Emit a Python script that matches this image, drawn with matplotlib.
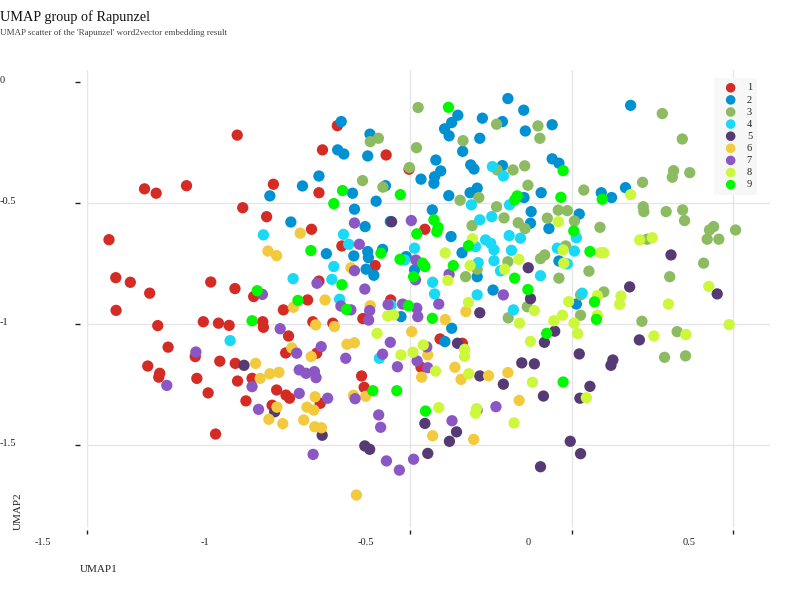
import matplotlib
matplotlib.use("Agg")
import matplotlib.pyplot as plt
from matplotlib.transforms import ScaledTranslation
import numpy as np

plt.rcParams['font.family'] = ['Liberation Serif', 'DejaVu Serif']

# ---------------- data (UMAP1, UMAP2) per group ----------------
group_labels = ['1', '2', '3', '4', '5', '6', '7', '8', '9']
group_colors = ['#d52b25', '#0091d2', '#8cbb62', '#19d9f7', '#553a73',
                '#f3c93e', '#8a57c4', '#cdf73a', '#00f800']

g1 = [(-1.036, -0.221), (-1.323, -0.443), (-1.287, -0.461), (-1.193, -0.430), (-0.924, -0.424),
      (-0.783, -0.459), (-0.772, -0.282), (-0.726, -0.182), (-0.575, -0.303), (-0.504, -0.362),
      (-1.019, -0.521), (-0.945, -0.558), (-0.806, -0.610), (-0.455, -0.610), (-1.433, -0.653),
      (-0.712, -0.679), (-0.609, -0.760), (-1.412, -0.810), (-1.367, -0.829), (-1.307, -0.874),
      (-1.118, -0.828), (-1.043, -0.855), (-0.783, -0.824), (-0.985, -0.888), (-0.818, -0.902),
      (-0.561, -0.902), (-1.411, -0.945), (-0.893, -0.943), (-1.282, -1.008), (-1.141, -0.992),
      (-1.094, -0.998), (-1.061, -1.007), (-0.957, -0.992), (-0.955, -1.015), (-0.802, -0.992),
      (-0.740, -0.998), (-0.647, -0.979), (-0.877, -1.051), (-1.250, -1.097), (-1.166, -1.136),
      (-1.090, -1.155), (-1.042, -1.164), (-0.886, -1.121), (-0.790, -1.122), (-1.313, -1.175),
      (-1.276, -1.205), (-1.279, -1.221), (-1.161, -1.226), (-1.035, -1.237), (-0.990, -1.226),
      (-0.651, -1.216), (-0.643, -1.263), (-0.914, -1.274), (-0.885, -1.295), (-0.874, -1.308),
      (-1.126, -1.286), (-1.009, -1.319), (-0.928, -1.337), (-0.779, -1.329), (-1.103, -1.456),
      (-0.467, -1.180), (-0.408, -1.063), (-0.339, -1.081)]

g2 = [(-0.714, -0.165), (-0.625, -0.217), (-0.725, -0.282), (-0.706, -0.299), (-0.632, -0.307),
      (-0.783, -0.390), (-0.834, -0.431), (-0.935, -0.472), (-0.679, -0.461), (-0.577, -0.430),
      (-0.467, -0.403), (-0.606, -0.494), (-0.673, -0.527), (-0.870, -0.580), (-0.640, -0.599),
      (-0.562, -0.578), (-0.760, -0.711), (-0.675, -0.720), (-0.632, -0.702), (-0.630, -0.727),
      (-0.586, -0.693), (-0.513, -0.723), (-0.637, -0.775), (-0.613, -0.800), (-0.487, -0.778),
      (-0.198, -0.070), (-0.149, -0.118), (-0.277, -0.151), (-0.353, -0.139), (-0.372, -0.169),
      (-0.394, -0.195), (-0.380, -0.224), (-0.215, -0.165), (-0.061, -0.178), (-0.144, -0.204),
      (-0.285, -0.234), (-0.338, -0.288), (-0.421, -0.324), (-0.406, -0.369), (-0.425, -0.393),
      (-0.427, -0.420), (-0.313, -0.344), (-0.303, -0.361), (-0.215, -0.347), (-0.061, -0.319),
      (-0.040, -0.337), (-0.293, -0.440), (-0.315, -0.459), (-0.381, -0.471), (-0.148, -0.479),
      (-0.095, -0.459), (0.182, -0.098), (0.091, -0.459), (0.123, -0.479), (0.166, -0.438),
      (-0.432, -0.530), (-0.126, -0.537), (-0.128, -0.585), (0.023, -0.547), (-0.071, -0.607),
      (-0.374, -0.640), (-0.340, -0.707), (-0.293, -0.806), (-0.040, -0.741), (-0.244, -0.861),
      (0.014, -0.919), (-0.372, -1.019), (-0.393, -1.074), (-0.529, -0.971)]

g3 = [(-0.476, -0.107), (-0.624, -0.248), (-0.599, -0.234), (-0.481, -0.273), (-0.503, -0.355),
      (-0.648, -0.409), (-0.585, -0.436), (-0.233, -0.176), (-0.105, -0.183), (-0.099, -0.234),
      (-0.337, -0.244), (0.280, -0.132), (0.342, -0.237), (0.315, -0.368), (0.311, -0.395),
      (0.365, -0.376), (0.219, -0.416), (0.037, -0.448), (-0.231, -0.365), (-0.182, -0.365),
      (-0.146, -0.348), (-0.136, -0.428), (-0.346, -0.490), (-0.288, -0.479), (-0.233, -0.517),
      (-0.210, -0.563), (-0.042, -0.531), (-0.014, -0.533), (-0.076, -0.564), (0.008, -0.576),
      (-0.166, -0.583), (-0.145, -0.607), (-0.309, -0.595), (0.087, -0.602), (0.221, -0.517),
      (0.223, -0.537), (0.292, -0.537), (0.343, -0.530), (0.349, -0.574), (0.233, -0.651),
      (0.426, -0.613), (0.439, -0.599), (0.419, -0.651), (0.455, -0.651), (0.507, -0.613),
      (-0.019, -0.679), (-0.084, -0.716), (-0.097, -0.731), (-0.198, -0.744), (-0.293, -0.775),
      (-0.329, -0.806), (-0.040, -0.812), (0.053, -0.783), (0.408, -0.750), (0.303, -0.806),
      (0.099, -0.869), (0.027, -0.881), (-0.138, -0.930), (-0.197, -0.976), (0.027, -0.965),
      (0.217, -0.990), (0.326, -1.033), (0.287, -1.139), (0.352, -1.133)]

g4 = [(-0.955, -0.633), (-0.707, -0.631), (-0.691, -0.672), (-0.487, -0.688), (-0.518, -0.737),
      (-0.737, -0.764), (-0.863, -0.814), (-0.743, -0.817), (-0.719, -0.899), (-0.431, -0.829),
      (-1.058, -1.070), (-0.596, -1.143), (-0.560, -0.923), (-0.246, -0.351), (-0.212, -0.390),
      (-0.311, -0.509), (-0.193, -0.509), (-0.248, -0.558), (-0.285, -0.571), (-0.194, -0.636),
      (-0.159, -0.647), (-0.267, -0.654), (-0.251, -0.668), (-0.241, -0.695), (-0.298, -0.682),
      (-0.187, -0.697), (-0.241, -0.740), (-0.290, -0.748), (-0.221, -0.782), (-0.097, -0.802),
      (-0.045, -0.688), (0.008, -0.700), (0.014, -0.645), (-0.014, -0.753), (-0.425, -0.877),
      (-0.293, -0.881), (0.032, -0.874), (-0.181, -0.943)]

g5 = [(-0.558, -0.579), (-1.015, -1.172), (-0.920, -1.364), (-0.773, -1.461), (-0.641, -1.505),
      (-0.626, -1.519), (-0.455, -1.412), (-0.446, -1.536), (0.307, -0.716), (0.179, -0.848),
      (0.450, -0.877), (-0.135, -0.769), (-0.128, -0.897), (-0.285, -0.955), (-0.354, -1.081),
      (-0.053, -1.031), (-0.085, -1.077), (0.023, -1.125), (0.209, -1.067), (0.127, -1.150),
      (0.121, -1.172), (-0.155, -1.162), (-0.116, -1.166), (-0.285, -1.216), (-0.212, -1.250),
      (-0.088, -1.299), (0.025, -1.308), (0.056, -1.259), (-0.357, -1.447), (-0.379, -1.486),
      (-0.005, -1.486), (0.027, -1.537), (-0.097, -1.591)]

g6 = [(-0.841, -0.626), (-0.941, -0.700), (-0.914, -0.719), (-0.684, -0.769), (-0.764, -0.902),
      (-0.862, -0.932), (-0.624, -0.926), (-0.793, -1.005), (-0.735, -1.012), (-0.496, -1.033),
      (-0.867, -1.100), (-0.807, -1.136), (-0.696, -1.085), (-0.673, -1.079), (-0.979, -1.164),
      (-0.965, -1.226), (-0.935, -1.207), (-0.907, -1.201), (-0.465, -1.221), (-0.446, -1.129),
      (-0.795, -1.302), (-0.676, -1.296), (-0.638, -1.300), (-0.820, -1.345), (-0.799, -1.357),
      (-0.913, -1.345), (-0.938, -1.395), (-0.895, -1.413), (-0.830, -1.398), (-0.796, -1.426),
      (-0.775, -1.430), (-0.667, -1.708), (-0.431, -1.463), (-0.328, -0.950), (-0.392, -0.983),
      (-0.362, -1.180), (-0.343, -1.230), (-0.258, -1.215), (-0.198, -1.202), (-0.163, -1.317),
      (-0.304, -1.478)]

g7 = [(-0.673, -0.584), (-0.497, -0.574), (-0.658, -0.672), (-0.483, -0.737), (-0.673, -0.781),
      (-0.789, -0.833), (-0.641, -0.857), (-0.484, -0.819), (-0.958, -0.879), (-0.715, -0.927),
      (-0.684, -0.943), (-0.626, -0.946), (-0.629, -0.985), (-0.569, -0.921), (-0.524, -0.919),
      (-0.480, -0.936), (-0.477, -0.971), (-0.903, -1.021), (-0.776, -1.095), (-0.852, -1.122),
      (-0.562, -1.077), (-0.586, -1.126), (-0.700, -1.143), (-0.479, -1.154), (-0.540, -1.178),
      (-1.164, -1.117), (-1.254, -1.255), (-0.990, -1.260), (-0.844, -1.191), (-0.823, -1.205),
      (-0.797, -1.198), (-0.792, -1.223), (-0.844, -1.288), (-0.756, -1.308), (-0.671, -1.310),
      (-0.970, -1.354), (-0.598, -1.377), (-0.592, -1.428), (-0.801, -1.540), (-0.574, -1.567),
      (-0.534, -1.605), (-0.490, -1.560), (-0.446, -1.182), (-0.212, -0.881), (-0.412, -0.919),
      (-0.235, -1.343), (-0.371, -1.401), (-0.293, -1.357), (-0.380, -0.796), (-0.449, -1.096)]

g8 = [(0.182, -0.467), (-0.042, -0.579), (-0.308, -0.649), (0.210, -0.654), (0.249, -0.645),
      (-0.392, -0.708), (-0.027, -0.695), (0.089, -0.707), (0.099, -0.707), (-0.315, -0.760),
      (-0.164, -0.734), (-0.025, -0.750), (-0.384, -0.821), (-0.208, -0.775), (0.424, -0.846),
      (-0.320, -0.912), (-0.116, -0.946), (-0.162, -0.998), (-0.010, -0.909), (0.079, -0.884),
      (0.152, -0.886), (0.148, -0.920), (-0.056, -0.988), (-0.029, -0.965), (0.007, -0.998),
      (0.018, -1.041), (0.079, -0.965), (0.299, -0.919), (0.487, -1.004), (0.254, -1.051),
      (0.353, -1.045), (-0.128, -1.073), (-0.332, -1.106), (-0.332, -1.135), (-0.422, -1.196),
      (-0.319, -1.207), (-0.122, -1.242), (0.045, -1.306), (-0.412, -1.347), (-0.295, -1.351),
      (-0.298, -1.370), (-0.179, -1.410), (-0.603, -1.040), (-0.570, -0.968), (-0.552, -0.964),
      (-0.529, -1.129), (-0.492, -1.118), (-0.460, -1.088)]

g9 = [(-0.710, -0.450), (-0.737, -0.504), (-0.531, -0.467), (-0.480, -0.629), (-0.808, -0.698),
      (-0.591, -0.709), (-0.532, -0.734), (-0.462, -0.750), (-0.455, -0.764), (-0.490, -0.806),
      (-0.712, -0.839), (-0.974, -0.864), (-0.848, -0.904), (-0.382, -0.106), (-0.027, -0.368),
      (-0.169, -0.472), (-0.177, -0.489), (-0.034, -0.478), (0.094, -0.486), (-0.427, -0.571),
      (-0.414, -0.602), (-0.418, -0.620), (0.006, -0.617), (-0.320, -0.678), (0.056, -0.702),
      (-0.367, -0.760), (-0.177, -0.812), (-0.136, -0.859), (0.070, -0.910), (0.076, -0.982),
      (-0.432, -0.978), (-0.078, -1.040), (-0.027, -1.241), (-0.990, -0.988), (-0.698, -0.941),
      (-0.506, -0.926), (-0.616, -1.277), (-0.542, -1.277), (-0.453, -1.361)]

groups = [g1, g2, g3, g4, g5, g6, g7, g8, g9]

x_ticks = [-1.5, -1, -0.5, 0, 0.5]
x_tick_labels = ['-1.5', '-1', '-0.5', '0', '0.5']
y_ticks = [0, -0.5, -1, -1.5]
y_tick_labels = ['0', '-0.5', '-1', '-1.5']

# ---------------- figure ----------------
W, H = 800, 600
fig = plt.figure(figsize=(W / 100, H / 100), dpi=100)
ax = fig.add_axes([86.7 / W, 1 - 527 / H, (770 - 86.7) / W, (527 - 70) / H])

for pts, lab, col in zip(groups, group_labels, group_colors):
    arr = np.array(pts)
    ax.scatter(arr[:, 0], arr[:, 1], s=66, color=col, edgecolors='none',
               label=lab, zorder=3)

ax.set_xlim(-1.502, 0.6135)
ax.set_ylim(-1.840, 0.048)

for sp in ax.spines.values():
    sp.set_visible(False)
ax.spines['bottom'].set_position(('outward', 2.2))
ax.spines['left'].set_position(('outward', 4.8))

ax.set_xticks(x_ticks)
ax.set_xticklabels(x_tick_labels)
ax.set_yticks(y_ticks)
ax.set_yticklabels(y_tick_labels)

ax.grid(True, color='#e6e6e6', linewidth=1.0)
ax.set_axisbelow(True)

ax.tick_params(axis='x', length=3.0, width=1.0, color='#222222', pad=2.5,
               labelsize=7.5, labelcolor='#222222')
ax.tick_params(axis='y', length=3.6, width=1.0, color='#222222', pad=54,
               labelsize=7.5, labelcolor='#222222')

# tick marks / grid lines that the reference does not draw
xt = ax.xaxis.get_major_ticks()
xt[1].tick1line.set_visible(False)
xt[1].gridline.set_visible(False)
yt = ax.yaxis.get_major_ticks()
yt[0].gridline.set_visible(False)

# x tick labels sit left of their tick marks in the reference
shift = ScaledTranslation(-44 / 100, 0, fig.dpi_scale_trans)
for lbl in ax.get_xticklabels():
    lbl.set_transform(lbl.get_transform() + shift)
upshift = ScaledTranslation(0, 2 / 100, fig.dpi_scale_trans)
for lbl in ax.get_yticklabels():
    lbl.set_horizontalalignment('left')
    lbl.set_transform(lbl.get_transform() + upshift)

ax.set_xlabel('UMAP1', fontsize=8, ha='left', va='center', color='#222222')
ax.xaxis.set_label_coords((80 - 86.7) / 683.3, (527 - 569) / 457)
ax.set_ylabel('UMAP2', fontsize=8, ha='center', va='center', color='#222222')
ax.yaxis.set_label_coords((18 - 86.7) / 683.3, (527 - 511) / 457)

fig.text(0.0, 1 - 17 / H, 'UMAP group of Rapunzel', fontsize=10.3,
         ha='left', va='center', color='#111111')
fig.text(0.0, 1 - 33 / H, "UMAP scatter of the 'Rapunzel' word2vector embedding result",
         fontsize=6.5, ha='left', va='center', color='#444444')

leg = ax.legend(loc='upper left', bbox_to_anchor=(714 / W, 1 - 78 / H),
                bbox_transform=fig.transFigure, frameon=True, fancybox=False,
                facecolor='#f7f7f7', edgecolor='none', framealpha=1.0,
                fontsize=7.5, borderpad=0.5, borderaxespad=0.0, labelspacing=0.27,
                handlelength=2.2, handletextpad=0.45, markerscale=0.85)
for t in leg.get_texts():
    t.set_color('#222222')

fig.savefig('out.png', dpi=100)
